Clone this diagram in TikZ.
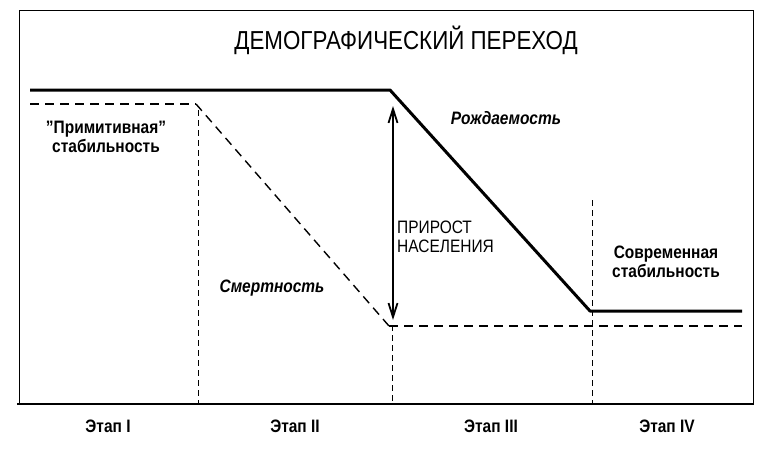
\documentclass[tikz,border=0pt]{standalone}
\usepackage{fontspec}
\usetikzlibrary{arrows.meta}
\setmainfont{Liberation Sans}[FakeStretch=0.86]
\begin{document}
\begin{tikzpicture}[x=1pt,y=-1pt,
  lbl/.style={font=\fontsize{18}{19}\selectfont\bfseries,inner sep=0pt,align=center},
  ital/.style={font=\fontsize{18}{19}\selectfont\bfseries\itshape,inner sep=0pt},
  div/.style={draw,dash pattern=on 6pt off 4pt,line width=0.5pt}]
\useasboundingbox (0,0) rectangle (768,458);
\draw[line width=0.8pt] (19,404) -- (19,10) -- (753,10) -- (753,404);
\draw[line width=1.6pt] (17,404) -- (754,404);
\coordinate (d1t) at (198,110); \coordinate (d1b) at (198,404);
\coordinate (d2t) at (392,325); \coordinate (d2b) at (392,404);
\coordinate (d3t) at (592,200); \coordinate (d3b) at (592,404);
\draw[div] (d1t)--(d1b); \draw[div] (d2t)--(d2b); \draw[div] (d3t)--(d3b);
\node[font=\fontsize{26}{28}\selectfont,inner sep=0pt] (title) at (406,40) {ДЕМОГРАФИЧЕСКИЙ ПЕРЕХОД};
\coordinate (b0) at (30,90); \coordinate (b1) at (390,90); \coordinate (b2) at (590,311); \coordinate (b3) at (742,311);
\draw[line width=3pt,line join=round] (b0)--(b1)--(b2)--(b3);
\coordinate (m0) at (30,104); \coordinate (m1) at (196,104); \coordinate (m2) at (389,326); \coordinate (m3) at (742,326);
\draw[line width=2.2pt,dash pattern=on 9pt off 6pt] (m0)--(m1);
\draw[line width=1.4pt,dash pattern=on 9pt off 6pt] (m1)--(m2);
\draw[line width=2.2pt,dash pattern=on 9pt off 6pt] (m2)--(m3);
\coordinate (a0) at (393,106); \coordinate (a1) at (393,320);
\draw[line width=1.8pt,{Straight Barb[length=14pt,width=9pt]}-{Straight Barb[length=14pt,width=9pt]}] (a0)--(a1);
\node[lbl] (prim) at (106,137) {"Примитивная"\\стабильность};
\node[ital] (birth) at (506,118) {Рождаемость};
\node[ital] (death) at (272,288) {Смертность};
\node[font=\fontsize{18}{19}\selectfont,inner sep=0pt,align=left,anchor=west] (grow) at (397,237) {ПРИРОСТ\\НАСЕЛЕНИЯ};
\node[lbl] (mod) at (666,262) {Современная\\стабильность};
\node[lbl] (s1) at (108,426) {Этап I};
\node[lbl] (s2) at (295,426) {Этап II};
\node[lbl] (s3) at (491,426) {Этап III};
\node[lbl] (s4) at (667,426) {Этап IV};
\end{tikzpicture}
\end{document}
